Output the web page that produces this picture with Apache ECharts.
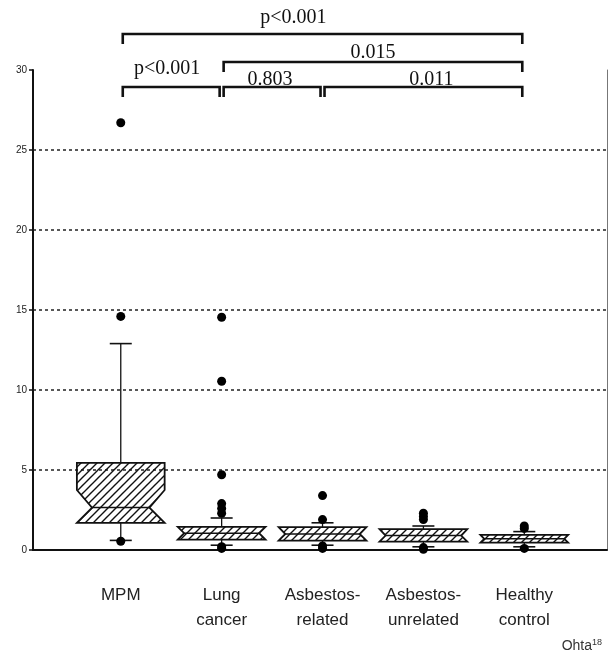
<!DOCTYPE html>
<html>
<head>
    <meta charset="utf-8">
    <title>Boxplot</title>
    <script src="https://cdn.jsdelivr.net/npm/echarts@6.0.0/dist/echarts.min.js"></script>
    <style>
        html, body { margin: 0; padding: 0; background: #fff; }
        #chart { width: 611px; height: 660px; }
    </style>
</head>
<body>
<div id="chart"></div>
<script type="text/javascript">
    // groups and their x position
    var groups = ['MPM', 'Lung\ncancer', 'Asbestos-\nrelated', 'Asbestos-\nunrelated', 'Healthy\ncontrol'];
    var groupPos = [1, 2, 3, 4, 5];

    // box statistics
    var whiskerLow = [0.6, 0.3, 0.3, 0.2, 0.2];
    var q1 = [1.7, 0.65, 0.58, 0.52, 0.46];
    var median = [2.65, 1.05, 1.0, 0.9, 0.7];
    var q3 = [5.45, 1.45, 1.43, 1.3, 0.95];
    var whiskerHigh = [12.9, 2.0, 1.7, 1.5, 1.15];
    var notchLow = [1.7, 0.65, 0.58, 0.52, 0.46];
    var notchHigh = [3.75, 1.45, 1.43, 1.3, 0.95];

    // single points per group
    var outliers = [
        [26.7, 14.6, 0.55],
        [14.55, 10.55, 4.7, 2.9, 2.6, 2.3, 0.2, 0.1],
        [3.4, 1.9, 0.25, 0.1],
        [2.3, 2.1, 1.9, 0.15, 0.05],
        [1.5, 1.35, 0.1]
    ];

    // p value brackets (from group, to group, level on the y scale)
    var bracketFrom = [1, 2, 1, 2, 3];
    var bracketTo = [5, 5, 2, 3, 5];
    var bracketLevel = [32.25, 30.5, 28.94, 28.94, 28.94];
    var bracketText = ['p<0.001', '0.015', 'p<0.001', '0.803', '0.011'];
    var bracketTextX = [2.71, 3.5, 1.46, 2.48, 4.08];
    var bracketTextY = [33.25, 31.1, 30.05, 29.4, 29.4];

    var BOX_W = 0.87;   // box width in x units
    var CAP_PX = 22;    // whisker cap width

    // diagonal hatch for the boxes
    function hatch(size, lw) {
        var c = document.createElement('canvas');
        c.width = c.height = size;
        var g = c.getContext('2d');
        g.strokeStyle = '#111';
        g.lineWidth = lw;
        g.beginPath();
        g.moveTo(0, size); g.lineTo(size, 0);
        g.moveTo(-size / 2, size / 2); g.lineTo(size / 2, -size / 2);
        g.moveTo(size / 2, size * 1.5); g.lineTo(size * 1.5, size / 2);
        g.stroke();
        return c;
    }
    var hatchImg = hatch(8, 1.4);

    var boxData = groupPos.map(function (p, i) {
        return [p, whiskerLow[i], q1[i], median[i], q3[i], whiskerHigh[i], notchLow[i], notchHigh[i]];
    });
    var dotData = [];
    outliers.forEach(function (list, i) {
        list.forEach(function (v) { dotData.push([groupPos[i], v]); });
    });
    var bracketData = bracketFrom.map(function (f, i) {
        return [f, bracketTo[i], bracketLevel[i], bracketTextX[i], bracketTextY[i]];
    });

    function renderBox(params, api) {
        var x = api.value(0);
        var half = api.size([BOX_W, 0])[0] / 2;
        var cx = api.coord([x, 0])[0];
        var yLo = api.coord([x, api.value(1)])[1];
        var yQ1 = api.coord([x, api.value(2)])[1];
        var yMed = api.coord([x, api.value(3)])[1];
        var yQ3 = api.coord([x, api.value(4)])[1];
        var yHi = api.coord([x, api.value(5)])[1];
        var yNL = api.coord([x, api.value(6)])[1];
        var yNH = api.coord([x, api.value(7)])[1];
        var L = cx - half, R = cx + half;
        var inset = Math.min(yMed - yNH, yNL - yMed, half * 0.45);
        var lineStyle = {stroke: '#111', lineWidth: 1.3};
        return {
            type: 'group',
            children: [
                {type: 'line', shape: {x1: cx, y1: yQ3, x2: cx, y2: yHi}, style: lineStyle},
                {type: 'line', shape: {x1: cx, y1: yQ1, x2: cx, y2: yLo}, style: lineStyle},
                {type: 'line', shape: {x1: cx - CAP_PX / 2, y1: yHi, x2: cx + CAP_PX / 2, y2: yHi}, style: {stroke: '#111', lineWidth: 1.6}},
                {type: 'line', shape: {x1: cx - CAP_PX / 2, y1: yLo, x2: cx + CAP_PX / 2, y2: yLo}, style: {stroke: '#111', lineWidth: 1.6}},
                {
                    type: 'polygon',
                    shape: {
                        points: [[L, yQ3], [R, yQ3], [R, yNH], [R - inset, yMed], [R, yNL], [R, yQ1],
                            [L, yQ1], [L, yNL], [L + inset, yMed], [L, yNH]]
                    },
                    style: {fill: {image: hatchImg, repeat: 'repeat'}, stroke: '#111', lineWidth: 1.8}
                },
                {type: 'line', shape: {x1: L + inset, y1: yMed, x2: R - inset, y2: yMed}, style: {stroke: '#111', lineWidth: 1.5}}
            ]
        };
    }

    function renderBracket(params, api) {
        var i = params.dataIndex;
        var a = api.coord([api.value(0), api.value(2)]);
        var b = api.coord([api.value(1), api.value(2)]);
        var t = api.coord([api.value(3), api.value(4)]);
        var gap = 2, tick = 10;
        return {
            type: 'group',
            children: [
                {
                    type: 'polyline',
                    shape: {points: [[a[0] + gap, a[1] + tick], [a[0] + gap, a[1]], [b[0] - gap, b[1]], [b[0] - gap, b[1] + tick]]},
                    style: {stroke: '#111', lineWidth: 2.6, fill: null}
                },
                {
                    type: 'text',
                    x: t[0], y: t[1],
                    style: {
                        text: bracketText[i], align: 'center', verticalAlign: 'middle',
                        font: '20px "Liberation Serif"', fill: '#111'
                    }
                }
            ]
        };
    }

    var chart = echarts.init(document.getElementById('chart'));
    chart.setOption({
        animation: false,
        backgroundColor: '#fff',
        grid: {left: 33, right: 4, top: 70, bottom: 110},
        xAxis: {
            type: 'value',
            min: 0.13,
            max: 5.82,
            axisLine: {show: true, lineStyle: {color: '#111', width: 2}},
            axisTick: {show: false},
            splitLine: {show: false},
            axisLabel: {
                customValues: groupPos,
                formatter: function (v) { return groups[Math.round(v) - 1]; },
                margin: 33,
                fontFamily: 'Liberation Sans',
                fontSize: 17,
                lineHeight: 25,
                color: '#222',
                verticalAlign: 'top'
            }
        },
        yAxis: [{
            type: 'value',
            min: 0,
            max: 30,
            interval: 5,
            axisLine: {show: true, onZero: false, lineStyle: {color: '#111', width: 2}},
            axisTick: {show: true, length: 4, lineStyle: {color: '#111', width: 1.5}},
            axisLabel: {fontFamily: 'Liberation Sans', fontSize: 10, color: '#222', margin: 6},
            splitLine: {show: true, showMaxLine: false, lineStyle: {color: '#222', width: 1.5, type: [3, 3]}}
        }, {
            type: 'value',
            position: 'right',
            min: 0,
            max: 30,
            axisLine: {show: true, onZero: false, lineStyle: {color: '#777', width: 1}},
            axisTick: {show: false},
            axisLabel: {show: false},
            splitLine: {show: false}
        }],
        series: [
            {
                type: 'custom',
                name: 'box',
                renderItem: renderBox,
                encode: {x: 0, y: [1, 2, 3, 4, 5, 6, 7]},
                data: boxData,
                z: 3
            },
            {
                type: 'scatter',
                name: 'points',
                symbol: 'circle',
                symbolSize: 9,
                itemStyle: {color: '#000', opacity: 1},
                data: dotData,
                z: 4
            },
            {
                type: 'custom',
                name: 'brackets',
                renderItem: renderBracket,
                clip: false,
                encode: {x: [0, 1, 3], y: [2, 4]},
                data: bracketData,
                z: 5
            }
        ],
        graphic: [{
            type: 'text',
            right: 9,
            bottom: 7,
            style: {
                text: '{a|Ohta}{b|18}',
                rich: {
                    a: {fontFamily: 'Liberation Sans', fontSize: 14, fill: '#333', verticalAlign: 'bottom'},
                    b: {fontFamily: 'Liberation Sans', fontSize: 9, fill: '#333', verticalAlign: 'top', padding: [0, 0, 6, 0]}
                }
            }
        }]
    });
</script>
</body>
</html>
